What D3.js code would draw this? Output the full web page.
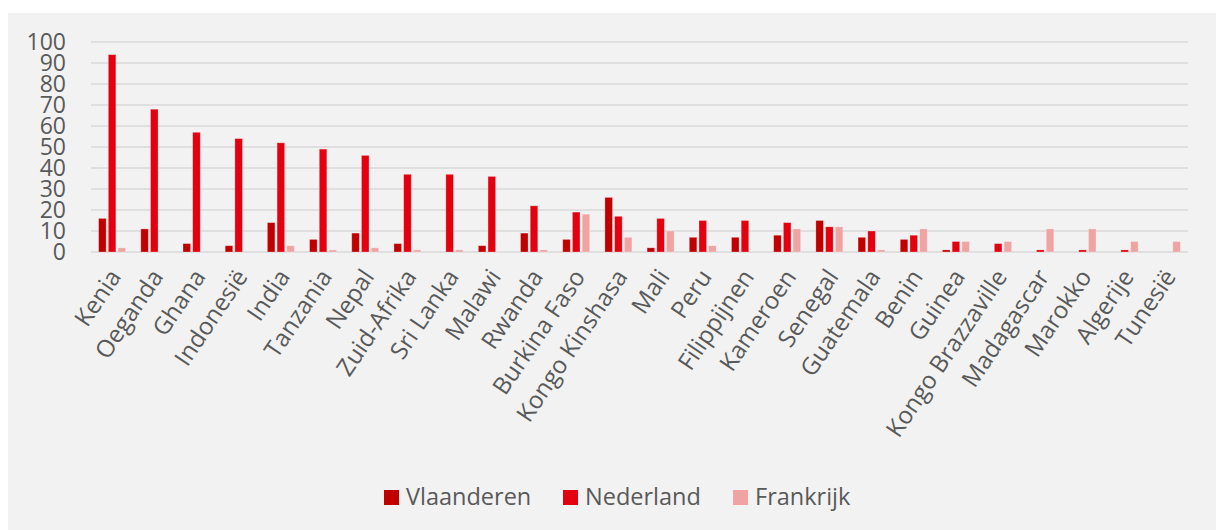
<!DOCTYPE html>
<html>
<head>
<meta charset="utf-8">
<script src="https://cdn.jsdelivr.net/npm/d3@7"></script>
<style>
  body { margin: 0; background: #fff; }
  svg { display: block; }
  text { font-family: "Open Sans", sans-serif; fill: #595959; }
</style>
</head>
<body>
<div id="chart"></div>
<script>
const countries = ['Kenia', 'Oeganda', 'Ghana', 'Indonesië', 'India', 'Tanzania', 'Nepal',
  'Zuid-Afrika', 'Sri Lanka', 'Malawi', 'Rwanda', 'Burkina Faso', 'Kongo Kinshasa', 'Mali',
  'Peru', 'Filippijnen', 'Kameroen', 'Senegal', 'Guatemala', 'Benin', 'Guinea',
  'Kongo Brazzaville', 'Madagascar', 'Marokko', 'Algerije', 'Tunesië'];

const series = ['Vlaanderen', 'Nederland', 'Frankrijk'];

const vlaanderen = [16, 11, 4, 3, 14, 6, 9, 4, 0, 3, 9, 6, 26, 2, 7, 7, 8, 15, 7, 6, 1, 0, 0, 0, 0, 0];
const nederland  = [94, 68, 57, 54, 52, 49, 46, 37, 37, 36, 22, 19, 17, 16, 15, 15, 14, 12, 10, 8, 5, 4, 1, 1, 1, 0];
const frankrijk  = [2, 0, 0, 0, 3, 1, 2, 1, 1, 0, 1, 18, 7, 10, 3, 0, 11, 12, 1, 11, 5, 5, 11, 11, 5, 5];

const yTicks = [0, 10, 20, 30, 40, 50, 60, 70, 80, 90, 100];

const colors = ['#c00000', '#e3000f', '#efa3a3'];
const values = [vlaanderen, nederland, frankrijk];

const width = 1216, height = 530;
const margin = { left: 91, right: 28, top: 42, bottom: 278 };

const svg = d3.select('#chart').append('svg')
  .attr('width', width)
  .attr('height', height);

// grijs paneel
svg.append('rect')
  .attr('x', 8).attr('y', 13)
  .attr('width', width - 8).attr('height', height - 13)
  .attr('fill', '#f2f2f2');

const x0 = d3.scaleBand()
  .domain(countries)
  .range([margin.left, width - margin.right]);

const x1 = d3.scaleBand()
  .domain(series)
  .range([-13.5, 13.5])
  .paddingInner(0.22);

const y = d3.scaleLinear()
  .domain([0, 100])
  .range([height - margin.bottom, margin.top]);

// rasterlijnen
svg.append('g')
  .selectAll('line')
  .data(yTicks)
  .join('line')
  .attr('x1', margin.left)
  .attr('x2', width - margin.right)
  .attr('y1', d => y(d))
  .attr('y2', d => y(d))
  .attr('stroke', '#d9d9d9')
  .attr('stroke-width', 1.4);

// y-as labels
svg.append('g')
  .selectAll('text')
  .data(yTicks)
  .join('text')
  .attr('x', 66)
  .attr('y', d => y(d))
  .attr('dy', '0.36em')
  .attr('text-anchor', 'end')
  .style('font-size', '23px')
  .text(d => d);

// staven
const groups = svg.append('g')
  .selectAll('g')
  .data(countries)
  .join('g')
  .attr('transform', d => `translate(${x0(d) + x0.bandwidth() / 2},0)`);

groups.selectAll('rect')
  .data((c, i) => series.map((s, j) => ({ s, j, v: values[j][i] })))
  .join('rect')
  .attr('x', d => x1(d.s))
  .attr('width', x1.bandwidth())
  .attr('y', d => y(d.v))
  .attr('height', d => y(0) - y(d.v))
  .attr('fill', d => colors[d.j])
  .attr('stroke', 'rgba(255,255,255,0.35)')
  .attr('stroke-width', 0.8);

// landnamen
svg.append('g')
  .selectAll('text')
  .data(countries)
  .join('text')
  .attr('transform', d => `translate(${x0(d) + x0.bandwidth() / 2 + 3},${y(0) + 20}) rotate(-56)`)
  .attr('text-anchor', 'end')
  .attr('dy', '0.35em')
  .style('font-size', '24px')
  .text(d => d);

// legenda
const legendX = [384, 563, 733];
const legend = svg.append('g')
  .selectAll('g')
  .data(series)
  .join('g')
  .attr('transform', (d, i) => `translate(${legendX[i]},490)`);

legend.append('rect')
  .attr('width', 15).attr('height', 15)
  .attr('fill', (d, i) => colors[i]);

legend.append('text')
  .attr('x', 22)
  .attr('y', 15)
  .style('font-size', '23.5px')
  .text(d => d);
</script>
</body>
</html>
